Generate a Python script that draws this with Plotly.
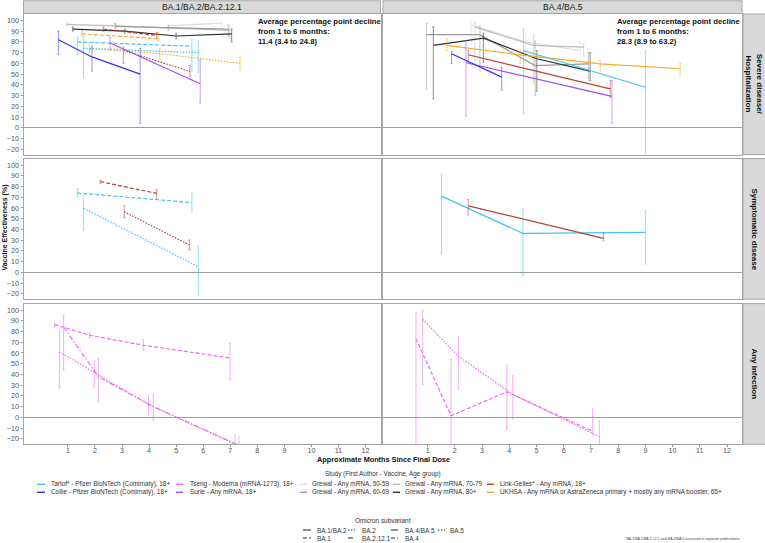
import plotly.graph_objects as go

W, H = 765, 543

# ---------------- data ----------------
month_ticks = list(range(1, 13))
ve_ticks = list(range(-20, 101, 10))
panel_titles = ["BA.1/BA.2/BA.2.12.1", "BA.4/BA.5"]
row_titles = ["Severe disease/<br>Hospitalization", "Symptomatic disease", "Any infection"]
decline_texts = [
    "Average percentage point decline<br>from 1 to 6 months:<br>11.4 (3.4 to 24.8)",
    "Average percentage point decline<br>from 1 to 6 months:<br>28.3 (8.9 to 63.2)",
]

studies = ["Tartof* - Pfizer BioNTech (Comirnaty), 18+", "Collie - Pfizer BioNTech (Comirnaty), 18+",
           "Tseng - Moderna (mRNA-1273), 18+", "Surie - Any mRNA, 18+",
           "Grewal - Any mRNA, 50-59", "Grewal - Any mRNA, 60-69",
           "Grewal - Any mRNA, 70-79", "Grewal - Any mRNA, 80+",
           "Link-Gelles* - Any mRNA, 18+",
           "UKHSA - Any mRNA or AstraZeneca primary + mostly any mRNA booster, 65+"]
study_colors = ["#3fc6f0", "#3535ee", "#ec6cec", "#a84cf2", "#dcdcdc", "#9a9a9a",
                "#bdbdbd", "#2e2e2e", "#b5403a", "#f7a928"]
subvariants = ["BA.1/BA.2", "BA.2", "BA.4/BA.5", "BA.5", "BA.1", "BA.2.12.1", "BA.4"]
subvariant_dash = ["solid", "1.5px,1.5px", "solid", "1.5px,1.5px", "4px,2px",
                   "5px,2px,1.5px,2px", "4px,2px"]

# Severe disease / hospitalization — BA.1/BA.2/BA.2.12.1
sa_collie_m, sa_collie_ve, sa_collie_lo, sa_collie_hi = [0.65, 1.89, 3.67], [82, 66, 50], [68, 53, 4], [90, 76, 74]
sa_surie_m, sa_surie_ve, sa_surie_lo, sa_surie_hi = [2.56, 5.89], [79, 41], [73, 23], [84, 63]
sa_tartof1_m, sa_tartof1_ve, sa_tartof1_lo, sa_tartof1_hi = [1.35, 5.58], [80, 76], [68, 53], [84, 82]
sa_tartof2_m, sa_tartof2_ve, sa_tartof2_lo, sa_tartof2_hi = [1.58, 5.82], [74, 70], [47, 52], [85, 81]
sa_ukhsa1_m, sa_ukhsa1_ve, sa_ukhsa1_lo, sa_ukhsa1_hi = [1.52, 4.34], [87.5, 83], [85, 81], [90, 89]
sa_ukhsa2_m, sa_ukhsa2_ve, sa_ukhsa2_lo, sa_ukhsa2_hi = [1.8, 4.4, 7.36], [74, 69, 60], [70, 63, 54], [78, 74, 66]
sa_lg1_m, sa_lg1_ve, sa_lg1_lo, sa_lg1_hi = [2.31, 4.28], [92, 86], [90, 83], [94, 89]
sa_lg2_m, sa_lg2_ve, sa_lg2_lo, sa_lg2_hi = [3.05, 5.51], [72, 52.5], [60, 48], [75, 58]
sa_g50_m, sa_g50_ve, sa_g50_lo, sa_g50_hi = [4.71, 6.68], [95, 97.5], [93, 95], [97, 99]
sa_g60_m, sa_g60_ve, sa_g60_lo, sa_g60_hi = [2.75, 4.71, 6.93], [94.5, 93, 92], [92, 91, 85], [97, 95, 96]
sa_g70_m, sa_g70_ve, sa_g70_lo, sa_g70_hi = [0.96, 2.75, 6.99], [96.3, 95, 90.7], [95, 93, 84], [97.5, 97, 95]
sa_g80_m, sa_g80_ve, sa_g80_lo, sa_g80_hi = [1.18, 3.1, 5.0, 7.05], [92, 90, 85.5, 87.5], [90, 88, 83, 80], [94, 92, 88, 92]

# Severe disease / hospitalization — BA.4/BA.5
sb_g60_m, sb_g60_ve, sb_g60_lo, sb_g60_hi = [0.96, 2.92, 4.95, 6.91], [86.7, 86.7, 58, 59.6], [36, 53, 30, 46], [97, 95, 81, 70]
sb_g80_m, sb_g80_ve, sb_g80_lo, sb_g80_hi = [1.21, 3.05, 5.01, 6.97], [76.7, 83.5, 64.3, 52.8], [27, 61, 34, 44], [94, 88, 72, 70]
sb_g70_m, sb_g70_ve, sb_g70_lo, sb_g70_hi = [2.74, 4.89, 6.73], [93.8, 76.7, 75.1], [56, 41, 67], [98, 87, 78]
sb_g50_m, sb_g50_ve, sb_g50_lo, sb_g50_hi = [2.6, 4.6, 6.6], [96, 80, 72], [80, 60, 62], [99, 90, 80]
sb_ukhsa_m, sb_ukhsa_ve, sb_ukhsa_lo, sb_ukhsa_hi = [1.70, 4.4, 7.34, 10.28], [76.7, 68, 59.6, 55], [72, 60, 52, 49], [83, 73, 63, 60]
sb_collie_m, sb_collie_ve, sb_collie_lo, sb_collie_hi = [1.88, 3.72], [69, 47.2], [60, 35], [71, 56]
sb_surie_m, sb_surie_ve, sb_surie_lo, sb_surie_hi = [2.41, 7.77], [60.6, 29.2], [11, 4], [81, 44]
sb_lg_m, sb_lg_ve, sb_lg_lo, sb_lg_hi = [2.49, 7.71], [68, 36.3], [62, 28], [72, 44]
sb_tartof_m, sb_tartof_ve, sb_tartof_lo, sb_tartof_hi = [4.52, 9.0], [72, 37.8], [13, -40], [92, 72]

# Symptomatic disease — BA.1/BA.2/BA.2.12.1
ya_lg1_m, ya_lg1_ve, ya_lg1_lo, ya_lg1_hi = [2.20, 4.28], [84.5, 73.6], [83, 68], [86, 77]
ya_tartof1_m, ya_tartof1_ve, ya_tartof1_lo, ya_tartof1_hi = [1.35, 5.58], [74, 65], [70, 56.5], [78, 73.6]
ya_tartof2_m, ya_tartof2_ve, ya_tartof2_lo, ya_tartof2_hi = [1.58, 5.82], [59.6, 5.3], [40, -21], [70.5, 24.5]
ya_lg2_m, ya_lg2_ve, ya_lg2_lo, ya_lg2_hi = [3.08, 5.49], [56.5, 25.5], [51, 21], [62, 30]

# Symptomatic disease — BA.4/BA.5
yb_tartof_m, yb_tartof_ve, yb_tartof_lo, yb_tartof_hi = [1.51, 4.50, 9.0], [71, 36.3, 37.3], [17.7, -3.4, 7.8], [91.3, 59.6, 57.5]
yb_lg_m, yb_lg_ve, yb_lg_lo, yb_lg_hi = [2.49, 7.46], [62, 31.7], [53.4, 29.5], [68, 36.3]

# Any infection — BA.1/BA.2/BA.2.12.1
ia_tseng1_m, ia_tseng1_ve, ia_tseng1_lo, ia_tseng1_hi = [0.51, 1.80, 3.79, 6.99], [86.4, 76.5, 67.2, 55.4], [84, 74.3, 62.5, 35.3], [88, 78.6, 72.4, 68.7]
ia_tseng2_m, ia_tseng2_ve, ia_tseng2_lo, ia_tseng2_hi = [0.69, 1.98, 3.98, 7.18], [61, 42, 12, -25], [27.6, 28.5, 1.5, -32], [79.6, 52.3, 20.7, -16.4]
ia_tseng3_m, ia_tseng3_ve, ia_tseng3_lo, ia_tseng3_hi = [0.84, 2.13, 4.16, 7.32], [84.2, 37.8, 9.9, -26], [44, 14.6, -2.5, -33], [95, 54.8, 21.4, -18]

# Any infection — BA.4/BA.5
ib_tseng4_m, ib_tseng4_ve, ib_tseng4_lo, ib_tseng4_hi = [0.57, 1.86, 3.91, 7.06], [73.4, 1.5, 23.8, -13], [-30, -30, -11.8, -17], [97.5, 54, 48.6, 8]
ib_tseng5_m, ib_tseng5_ve, ib_tseng5_lo, ib_tseng5_hi = [0.82, 2.13, 4.13, 7.31], [91.3, 57, 21.4, -18], [30.7, 26.3, -1.5, -26], [99.7, 75.5, 38.7, -3.4]

# (row, col, study index, subvariant, months, ve, lower, upper)
series = [
    (0, 0, 6, "BA.1/BA.2", sa_g70_m, sa_g70_ve, sa_g70_lo, sa_g70_hi),
    (0, 0, 4, "BA.1/BA.2", sa_g50_m, sa_g50_ve, sa_g50_lo, sa_g50_hi),
    (0, 0, 5, "BA.1/BA.2", sa_g60_m, sa_g60_ve, sa_g60_lo, sa_g60_hi),
    (0, 0, 7, "BA.1/BA.2", sa_g80_m, sa_g80_ve, sa_g80_lo, sa_g80_hi),
    (0, 0, 8, "BA.1", sa_lg1_m, sa_lg1_ve, sa_lg1_lo, sa_lg1_hi),
    (0, 0, 8, "BA.2", sa_lg2_m, sa_lg2_ve, sa_lg2_lo, sa_lg2_hi),
    (0, 0, 9, "BA.1", sa_ukhsa1_m, sa_ukhsa1_ve, sa_ukhsa1_lo, sa_ukhsa1_hi),
    (0, 0, 9, "BA.2", sa_ukhsa2_m, sa_ukhsa2_ve, sa_ukhsa2_lo, sa_ukhsa2_hi),
    (0, 0, 0, "BA.1", sa_tartof1_m, sa_tartof1_ve, sa_tartof1_lo, sa_tartof1_hi),
    (0, 0, 0, "BA.2", sa_tartof2_m, sa_tartof2_ve, sa_tartof2_lo, sa_tartof2_hi),
    (0, 0, 3, "BA.1/BA.2", sa_surie_m, sa_surie_ve, sa_surie_lo, sa_surie_hi),
    (0, 0, 1, "BA.1/BA.2", sa_collie_m, sa_collie_ve, sa_collie_lo, sa_collie_hi),
    (0, 1, 4, "BA.4/BA.5", sb_g50_m, sb_g50_ve, sb_g50_lo, sb_g50_hi),
    (0, 1, 6, "BA.4/BA.5", sb_g70_m, sb_g70_ve, sb_g70_lo, sb_g70_hi),
    (0, 1, 5, "BA.4/BA.5", sb_g60_m, sb_g60_ve, sb_g60_lo, sb_g60_hi),
    (0, 1, 7, "BA.4/BA.5", sb_g80_m, sb_g80_ve, sb_g80_lo, sb_g80_hi),
    (0, 1, 9, "BA.4/BA.5", sb_ukhsa_m, sb_ukhsa_ve, sb_ukhsa_lo, sb_ukhsa_hi),
    (0, 1, 0, "BA.4/BA.5", sb_tartof_m, sb_tartof_ve, sb_tartof_lo, sb_tartof_hi),
    (0, 1, 8, "BA.4/BA.5", sb_lg_m, sb_lg_ve, sb_lg_lo, sb_lg_hi),
    (0, 1, 3, "BA.4/BA.5", sb_surie_m, sb_surie_ve, sb_surie_lo, sb_surie_hi),
    (0, 1, 1, "BA.4/BA.5", sb_collie_m, sb_collie_ve, sb_collie_lo, sb_collie_hi),
    (1, 0, 8, "BA.1", ya_lg1_m, ya_lg1_ve, ya_lg1_lo, ya_lg1_hi),
    (1, 0, 0, "BA.1", ya_tartof1_m, ya_tartof1_ve, ya_tartof1_lo, ya_tartof1_hi),
    (1, 0, 0, "BA.2", ya_tartof2_m, ya_tartof2_ve, ya_tartof2_lo, ya_tartof2_hi),
    (1, 0, 8, "BA.2", ya_lg2_m, ya_lg2_ve, ya_lg2_lo, ya_lg2_hi),
    (1, 1, 0, "BA.4/BA.5", yb_tartof_m, yb_tartof_ve, yb_tartof_lo, yb_tartof_hi),
    (1, 1, 8, "BA.4/BA.5", yb_lg_m, yb_lg_ve, yb_lg_lo, yb_lg_hi),
    (2, 0, 2, "BA.1", ia_tseng1_m, ia_tseng1_ve, ia_tseng1_lo, ia_tseng1_hi),
    (2, 0, 2, "BA.2", ia_tseng2_m, ia_tseng2_ve, ia_tseng2_lo, ia_tseng2_hi),
    (2, 0, 2, "BA.2.12.1", ia_tseng3_m, ia_tseng3_ve, ia_tseng3_lo, ia_tseng3_hi),
    (2, 1, 2, "BA.4", ib_tseng4_m, ib_tseng4_ve, ib_tseng4_lo, ib_tseng4_hi),
    (2, 1, 2, "BA.5", ib_tseng5_m, ib_tseng5_ve, ib_tseng5_lo, ib_tseng5_hi),
]

# ---------------- layout helpers ----------------
FONT = "Liberation Sans, Arial, sans-serif"
BORDER = "#a6a6a6"
STRIP = "#d9d9d9"
col_px = [(23.5, 380.5), (383.0, 742.0)]
row_px = [(14.0, 154.6), (158.6, 299.2), (303.6, 444.2)]
X_RANGE = [-0.64, 12.55]
Y_RANGE = [-25, 106]


def px_x(p):
    return p / W


def px_y(p):
    return 1 - p / H


def rgba(hex_color, a):
    h = hex_color.lstrip("#")
    r, g, b = int(h[0:2], 16), int(h[2:4], 16), int(h[4:6], 16)
    return f"rgba({r},{g},{b},{a})"


def note(x, y, text, font, xanchor="center", yanchor="middle", **kw):
    return dict(xref="paper", yref="paper", x=px_x(x), y=px_y(y), text=text,
                showarrow=False, xanchor=xanchor, yanchor=yanchor, font=font, **kw)


fig = go.Figure()

for r in range(3):
    for c in range(2):
        idx = r * 2 + c + 1
        xs = "" if idx == 1 else str(idx)
        bottom = r == 2
        left = c == 0
        fig.layout["xaxis" + xs] = dict(
            domain=[px_x(col_px[c][0]), px_x(col_px[c][1])], anchor="y" + xs,
            range=X_RANGE, showgrid=False, zeroline=False,
            showline=True, mirror=True, linecolor=BORDER, linewidth=1,
            tickvals=month_ticks if bottom else [], showticklabels=bottom,
            ticks="outside" if bottom else "", ticklen=2, tickcolor="#999",
            ticklabelstandoff=-3,
            tickfont=dict(family=FONT, size=7.2, color="#555"),
        )
        fig.layout["yaxis" + xs] = dict(
            domain=[px_y(row_px[r][1]), px_y(row_px[r][0])], anchor="x" + xs,
            range=Y_RANGE, showgrid=False, zeroline=True, zerolinecolor="#9c9c9c",
            zerolinewidth=1, showline=True, mirror=True, linecolor=BORDER, linewidth=1,
            tickvals=ve_ticks if left else [], showticklabels=left,
            ticks="outside" if left else "", ticklen=2, tickcolor="#999",
            tickfont=dict(family=FONT, size=7.2, color="#555"),
        )

for (r, c, si, sub, m, ve, lo, hi) in series:
    idx = r * 2 + c + 1
    xs = "" if idx == 1 else str(idx)
    color = study_colors[si]
    dash = subvariant_dash[subvariants.index(sub)]
    fig.add_trace(go.Scatter(
        x=m, y=ve, mode="lines", xaxis="x" + xs, yaxis="y" + xs,
        line=dict(color=color, width=1.2, dash=dash),
        error_y=dict(type="data", symmetric=False,
                     array=[h - v for h, v in zip(hi, ve)],
                     arrayminus=[v - l for v, l in zip(ve, lo)],
                     color=rgba(color, 0.5), thickness=1.1, width=1),
        showlegend=False, hoverinfo="skip",
    ))

shapes = []
annotations = []

# top strips
for c in range(2):
    shapes.append(dict(type="rect", xref="paper", yref="paper",
                       x0=px_x(col_px[c][0]), x1=px_x(col_px[c][1]),
                       y0=px_y(13.5), y1=px_y(0.8),
                       fillcolor=STRIP, line=dict(color=BORDER, width=1), layer="below"))
    annotations.append(note((col_px[c][0] + col_px[c][1]) / 2, 7.3, panel_titles[c],
                            dict(family=FONT, size=8.6, color="#1a1a1a")))
    annotations.append(note([256, 615][c], 15, "<b>" + decline_texts[c] + "</b>",
                            dict(family=FONT, size=7.7, color="#111"),
                            xanchor="left", yanchor="top", align="left"))

# right strips
for r in range(3):
    shapes.append(dict(type="rect", xref="paper", yref="paper",
                       x0=px_x(743), x1=px_x(767),
                       y0=px_y(row_px[r][1]), y1=px_y(row_px[r][0]),
                       fillcolor=STRIP, line=dict(color=BORDER, width=1), layer="below"))
    annotations.append(note(754.5, (row_px[r][0] + row_px[r][1]) / 2, "<b>" + row_titles[r] + "</b>",
                            dict(family=FONT, size=8, color="#111"), textangle=90))

# axis titles
annotations.append(note(383, 460, "<b>Approximate Months Since Final Dose</b>",
                        dict(family=FONT, size=7.3, color="#111")))
annotations.append(note(4.5, 228, "<b>Vaccine Effectiveness (%)</b>",
                        dict(family=FONT, size=7, color="#111"), textangle=-90))

# study legend
LEG_FONT = dict(family=FONT, size=6.4, color="#333")
annotations.append(note(383, 474, "Study (First Author - Vaccine, Age group)", LEG_FONT))
leg_cols = [(37, 45, 49), (176, 183, 188), (300, 307, 310), (393, 400, 403), (487, 494, 498)]
for i, name in enumerate(studies):
    col = i // 2
    row = i % 2
    yy = [484.3, 492.3][row]
    x0, x1, xt = leg_cols[col]
    shapes.append(dict(type="line", xref="paper", yref="paper",
                       x0=px_x(x0), x1=px_x(x1), y0=px_y(yy), y1=px_y(yy),
                       line=dict(color=study_colors[i], width=1.4)))
    annotations.append(note(xt, yy, name, LEG_FONT, xanchor="left"))

# subvariant legend
annotations.append(note(383, 520, "Omicron subvariant", LEG_FONT))
sub_pos = {"BA.1/BA.2": (303, 311, 315, 530), "BA.1": (303, 311, 315, 538),
           "BA.2": (348, 355, 360, 530), "BA.2.12.1": (348, 355, 360, 538),
           "BA.4/BA.5": (391, 398, 403, 530), "BA.4": (391, 398, 403, 538),
           "BA.5": (438, 445, 448, 530)}
for s, d in zip(subvariants, subvariant_dash):
    x0, x1, xt, yy = sub_pos[s]
    shapes.append(dict(type="line", xref="paper", yref="paper",
                       x0=px_x(x0), x1=px_x(x1), y0=px_y(yy), y1=px_y(yy),
                       line=dict(color="#333", width=1.1, dash=d)))
    annotations.append(note(xt, yy, s, LEG_FONT, xanchor="left"))

annotations.append(note(742, 539, "*BA.1/BA.2/BA.2.12.1 and BA.4/BA.5 assessed in separate publications.",
                        dict(family=FONT, size=3.6, color="#444"), xanchor="right"))

fig.update_layout(
    width=W, height=H, margin=dict(l=0, r=0, t=0, b=0),
    paper_bgcolor="white", plot_bgcolor="white",
    shapes=shapes, annotations=annotations, showlegend=False,
)

fig.write_html("out.html", config={"displayModeBar": False},
               post_script="document.body.style.margin='0';")
